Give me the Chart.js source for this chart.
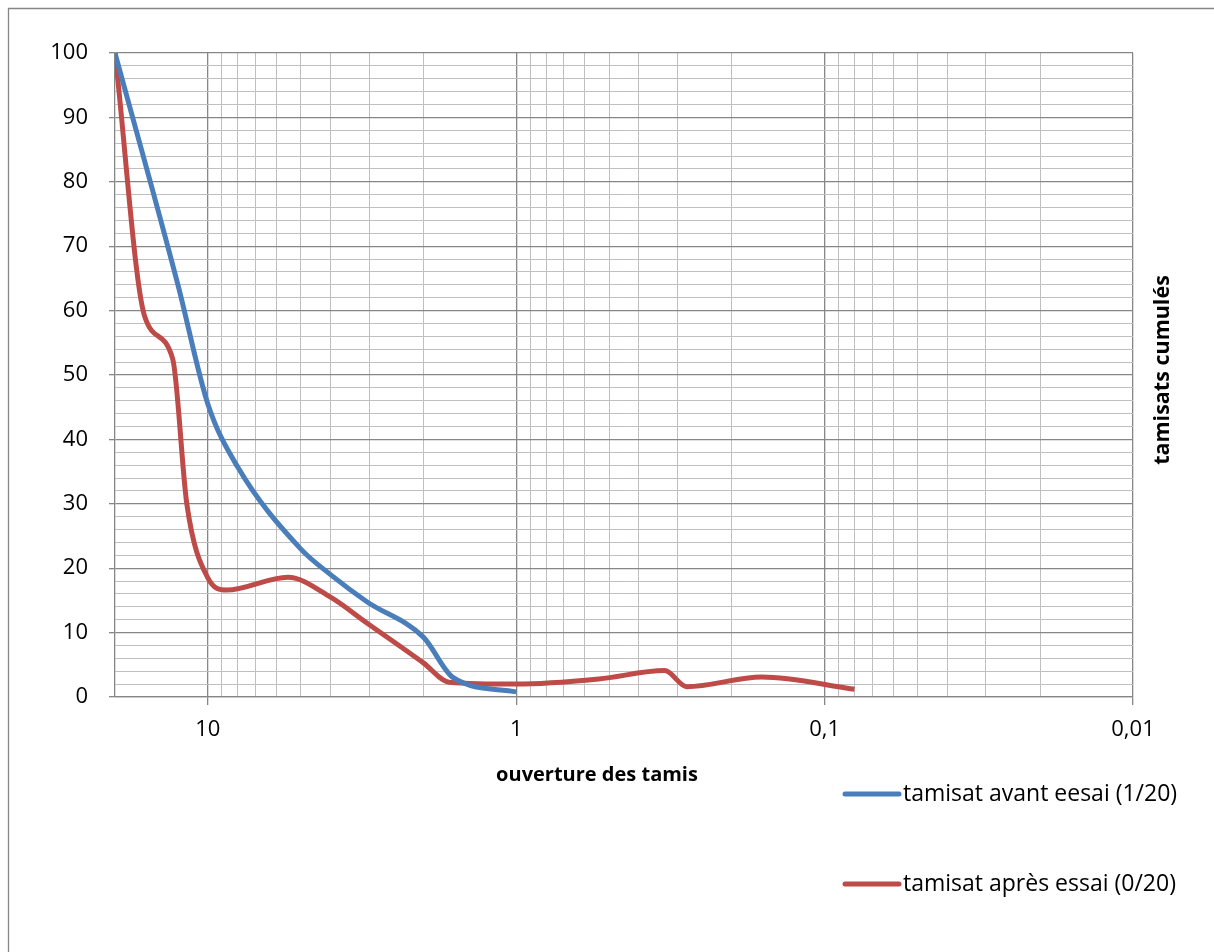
<!DOCTYPE html>
<html>
<head>
<meta charset="utf-8">
<script src="https://cdn.jsdelivr.net/npm/chart.js@4.4.0/dist/chart.umd.min.js"></script>
<style>
  html, body { margin: 0; padding: 0; background: #fff; }
  #wrap { position: relative; width: 1214px; height: 952px; overflow: hidden; }
  canvas { display: block; }
</style>
</head>
<body>
<div id="wrap"><canvas id="graph" width="1214" height="952"></canvas></div>
<script>
// ouverture des tamis (mm) / tamisats cumules (%)
const ouvertureAvant = [20, 12.5, 10, 8, 5, 4, 3.05, 2, 1.6, 1];
const tamisatAvant = [100, 64, 45.5, 35.7, 23, 19, 14.8, 9.3, 3.0, 0.8];

const ouvertureApres = [20, 16, 13, 11.7, 10, 8.7, 5.5, 4, 3.05, 2, 1.65, 1, 0.54, 0.33, 0.28, 0.16, 0.08];
const tamisatApres = [100, 59, 52.5, 30, 18.5, 16.6, 18.6, 15.5, 11.5, 5.3, 2.3, 2.0, 2.8, 4.1, 1.6, 3.1, 1.2];

const labelAvant = 'tamisat avant eesai (1/20)';
const labelApres = 'tamisat après essai (0/20)';
const xTitle = 'ouverture des tamis';
const yTitle = 'tamisats cumulés';

// tick labels shown on the log axis
const xLabels = { 10: '10', 1: '1', 0.1: '0,1', 0.01: '0,01' };

// grid lines: 10, 9 ... 1, 0.9 ... 0.01
const xTicks = [];
[1, 0.1, 0.01].forEach(d => {
  for (let m = 10; m >= 1; m--) {
    const v = parseFloat((m * d).toPrecision(6));
    if (!xTicks.includes(v)) xTicks.push(v);
  }
});
const yTicks = [];
for (let v = 0; v <= 100; v += 2) yTicks.push(v);

const MAJOR = '#868686';
const MINOR = '#bfbfbf';
const FONT = "'Open Sans', 'DejaVu Sans', sans-serif";

const isMajor = v => Math.abs(Math.log10(v) - Math.round(Math.log10(v))) < 1e-6;

const toPts = (xs, ys) => xs.map((x, i) => ({ x: x, y: ys[i] }));

const decor = {
  id: 'decor',
  beforeDraw(chart) {
    const c = chart.ctx;
    c.save();
    c.strokeStyle = MAJOR;
    c.lineWidth = 1.3;
    c.beginPath();
    c.moveTo(8.5, 2000);
    c.lineTo(8.5, 8.5);
    c.lineTo(2000, 8.5);
    c.stroke();
    c.restore();
  },
  afterDraw(chart) {
    const c = chart.ctx;
    c.save();
    c.fillStyle = '#000';
    // axis titles
    c.font = 'bold 20px ' + FONT;
    c.textAlign = 'center';
    c.textBaseline = 'middle';
    c.fillText(xTitle, 597, 775);
    c.font = 'bold 21.5px ' + FONT;
    c.translate(1163, 370);
    c.rotate(-Math.PI / 2);
    c.fillText(yTitle, 0, 0);
    c.restore();

    // legend
    c.save();
    c.font = '23px ' + FONT;
    c.textAlign = 'left';
    c.textBaseline = 'middle';
    chart.data.datasets.forEach((ds, i) => {
      const y = 794 + i * 90;
      c.strokeStyle = ds.borderColor;
      c.lineWidth = 5;
      c.lineCap = 'round';
      c.beginPath();
      c.moveTo(845, y);
      c.lineTo(899, y);
      c.stroke();
      c.fillStyle = '#000';
      c.fillText(ds.label, 903, y);
    });
    c.restore();
  }
};

new Chart(document.getElementById('graph'), {
  type: 'line',
  data: {
    datasets: [
      {
        label: labelAvant,
        data: toPts(ouvertureAvant, tamisatAvant),
        borderColor: '#4a7ebb',
        borderWidth: 5,
        pointRadius: 0,
        cubicInterpolationMode: 'monotone',
        fill: false
      },
      {
        label: labelApres,
        data: toPts(ouvertureApres, tamisatApres),
        borderColor: '#be4b48',
        borderWidth: 5,
        pointRadius: 0,
        cubicInterpolationMode: 'monotone',
        fill: false
      }
    ]
  },
  options: {
    responsive: false,
    animation: false,
    devicePixelRatio: 1,
    layout: { padding: { top: 53, right: 81, left: 0, bottom: 0 } },
    plugins: { legend: { display: false }, tooltip: { enabled: false } },
    scales: {
      x: {
        type: 'logarithmic',
        min: 0.01,
        max: 20,
        reverse: true,
        afterBuildTicks: s => { s.ticks = xTicks.map(v => ({ value: v })); },
        afterFit: s => { s.height = 255; },
        ticks: {
          autoSkip: false,
          maxRotation: 0,
          padding: 12,
          color: '#000',
          font: { family: FONT, size: 22 },
          callback: v => xLabels[v] || ''
        },
        grid: {
          color: ctx => isMajor(ctx.tick.value) ? MAJOR : MINOR,
          lineWidth: ctx => isMajor(ctx.tick.value) ? 1.3 : 1,
          tickLength: 8,
          tickColor: ctx => isMajor(ctx.tick.value) ? MAJOR : 'rgba(0,0,0,0)'
        },
        border: { color: MAJOR, width: 1.3 }
      },
      y: {
        min: 0,
        max: 100,
        afterBuildTicks: s => { s.ticks = yTicks.map(v => ({ value: v })); },
        afterFit: s => { s.width = 115; },
        ticks: {
          autoSkip: false,
          padding: 21,
          color: '#000',
          font: { family: FONT, size: 22 },
          callback: v => v % 10 === 0 ? String(v) : ''
        },
        grid: {
          color: ctx => ctx.tick.value % 10 === 0 ? MAJOR : MINOR,
          lineWidth: ctx => ctx.tick.value % 10 === 0 ? 1.3 : 1,
          tickLength: 6,
          tickColor: ctx => ctx.tick.value % 10 === 0 ? MAJOR : 'rgba(0,0,0,0)'
        },
        border: { color: MAJOR, width: 1.3 }
      }
    }
  },
  plugins: [decor]
});
</script>
</body>
</html>
